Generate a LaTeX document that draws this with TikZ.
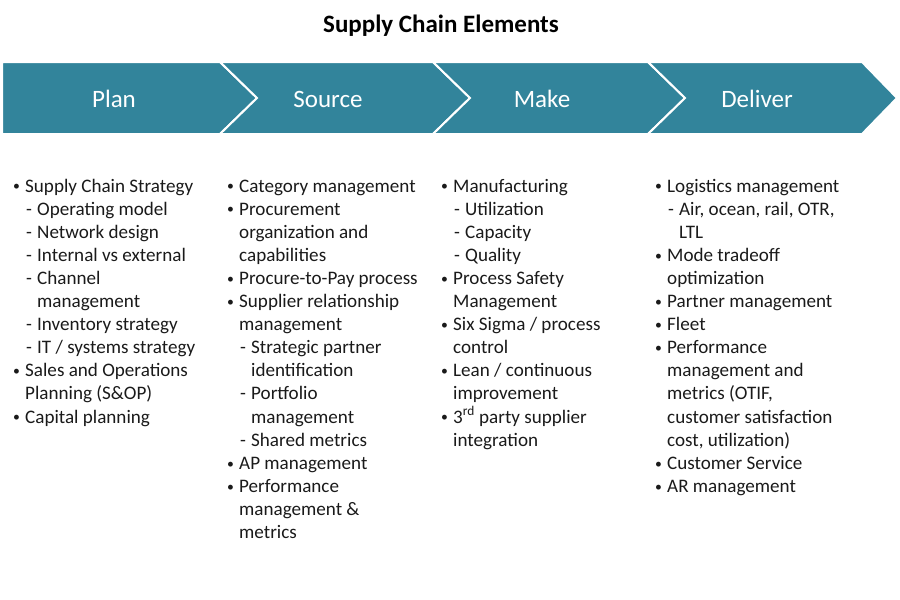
\documentclass[tikz,border=0pt]{standalone}
\usepackage{fontspec}
\setmainfont{Carlito}
\definecolor{teal}{HTML}{32849B}
\definecolor{bodytext}{HTML}{1A1A1A}
\tikzset{
  chev/.style={fill=teal, draw=white, line width=2pt, line join=miter},
  chevlabel/.style={text=white, font=\fontsize{25}{30}\selectfont, inner sep=0pt},
  itemtext/.style={text=bodytext, font=\fontsize{19.1}{23}\selectfont, inner sep=0pt, anchor=base west},
}
\newcommand\smallbullet{\raisebox{1.2pt}{\scalebox{0.72}{•}}}
\newcommand\chaincol[3]{%
  \foreach \k/\t [count=\i] in {#3} {
    \pgfmathsetmacro\yy{192+23.1*(\i-1)}
    \if b\k \node[itemtext] (#1-\i) at (#2,\yy) {\llap{\makebox[13pt][l]{\hspace{1pt}\smallbullet}}\t};\fi
    \if c\k \node[itemtext] (#1-\i) at (#2,\yy) {\t};\fi
    \if s\k \node[itemtext] (#1-\i) at (#2+12,\yy) {\llap{\makebox[11pt][l]{-}}\t};\fi
    \if d\k \node[itemtext] (#1-\i) at (#2+12,\yy) {\t};\fi
  }%
}
\begin{document}
\begin{tikzpicture}[x=1pt,y=-1pt]
\useasboundingbox (0,0) rectangle (900,600);
\node[font=\bfseries\fontsize{25}{30}\selectfont, text=black, anchor=base, inner sep=0pt] (title) at (441,32) {Supply Chain Elements};
% chevrons
\draw[chev] (2,62) -- (220,62) -- (257,98) -- (220,134) -- (2,134) -- cycle;
\draw[chev] (220,62) -- (433,62) -- (470,98) -- (433,134) -- (220,134) -- (257,98) -- cycle;
\draw[chev] (433,62) -- (648,62) -- (685,98) -- (648,134) -- (433,134) -- (470,98) -- cycle;
\draw[chev] (648,62) -- (862,62) -- (897,98) -- (862,134) -- (648,134) -- (685,98) -- cycle;
\node[chevlabel] (plan) at (114,99) {Plan};
\node[chevlabel] (source) at (328,99) {Source};
\node[chevlabel] (make) at (542,99) {Make};
\node[chevlabel] (deliver) at (757,99) {Deliver};
% columns
\chaincol{plancol}{25}{b/Supply Chain Strategy, s/Operating model, s/Network design, s/Internal vs external, s/Channel, d/management, s/Inventory strategy, s/{IT / systems strategy}, b/Sales and Operations, c/Planning (S\&OP), b/Capital planning}
\chaincol{sourcecol}{239}{b/Category management, b/Procurement, c/organization and, c/capabilities, b/Procure-to-Pay process, b/Supplier relationship, c/management, s/Strategic partner, d/identification, s/Portfolio, d/management, s/Shared metrics, b/AP management, b/Performance, c/management \&, c/metrics}
\chaincol{makecol}{453}{b/Manufacturing, s/Utilization, s/Capacity, s/Quality, b/Process Safety, c/Management, b/{Six Sigma / process}, c/control, b/{Lean / continuous}, c/improvement, b/3\textsuperscript{rd} party supplier, c/integration}
\chaincol{delivercol}{667}{b/Logistics management, {s/Air, ocean, rail, OTR,}, d/LTL, b/Mode tradeoff, c/optimization, b/Partner management, b/Fleet, b/Performance, c/management and, {c/metrics (OTIF,}, c/customer satisfaction, {c/cost, utilization)}, b/Customer Service, b/AR management}
\end{tikzpicture}
\end{document}
